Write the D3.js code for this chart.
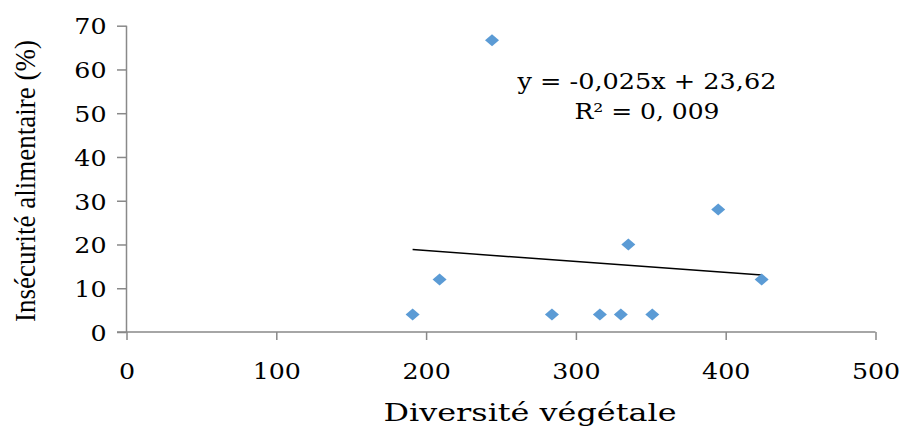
<!DOCTYPE html>
<html>
<head>
<meta charset="utf-8">
<script src="https://cdnjs.cloudflare.com/ajax/libs/d3/7.8.5/d3.min.js"></script>
<style>
  body { margin: 0; background: #fff; }
  #canvas { width: 904px; height: 429px; }
</style>
</head>
<body>
<div id="canvas" class="canvas"></div>
<script>
// data
var diversite = [191, 209, 244, 284, 316, 330, 335, 351, 395, 424];
var insecurite = [4, 12, 66.7, 4, 4, 4, 20, 4, 28, 12];
var xTicks = [0, 100, 200, 300, 400, 500];
var yTicks = [0, 10, 20, 30, 40, 50, 60, 70];
var trendSlope = -0.025, trendIntercept = 23.62;
var trendLabel = ['y = -0,025x + 23,62', 'R\u00b2 = 0, 009'];

var W = 904, H = 429;
var m = {t:25.7, r:28.5, b:97, l:126.5};

var svg = d3.select('.canvas')
    .append('svg')
    .attr('width', W)
    .attr('height', H);

var x = d3.scaleLinear().domain([0, 500]).range([m.l, W - m.r]);
var y = d3.scaleLinear().domain([0, 70]).range([H - m.b, m.t]);

var axisColor = '#898989';
var stretch = 1.1; // text in the picture is a bit wide

// y axis
var gy = svg.append('g')
    .attr('transform', 'translate(' + x(0) + ',0)')
    .call(d3.axisLeft(y).tickValues(yTicks).tickSize(9.5).tickPadding(11).tickFormat(d3.format('d')));
// x axis
var gx = svg.append('g')
    .attr('transform', 'translate(0,' + y(0) + ')')
    .call(d3.axisBottom(x).tickValues(xTicks).tickSize(8).tickPadding(31).tickFormat(d3.format('d')));

[gx, gy].forEach(function(g){
    g.select('.domain').remove();
    g.selectAll('line').attr('stroke', axisColor).attr('stroke-width', 1.5);
    g.selectAll('text')
        .attr('fill', '#000')
        .style('font-family', '"DejaVu Serif", serif')
        .style('font-size', '23px');
});
gy.selectAll('text').attr('transform', 'scale(' + stretch + ',1)').attr('x', -20 / stretch).attr('dy', '0.36em');
gx.selectAll('text').attr('transform', 'scale(' + stretch + ',1)').attr('dy', '0.36em');

// axis lines
svg.append('line')
    .attr('x1', x(0)).attr('x2', x(0))
    .attr('y1', y(70)).attr('y2', y(0))
    .attr('stroke', axisColor).attr('stroke-width', 1.5);
svg.append('line')
    .attr('x1', x(0) - 9.5).attr('x2', x(500))
    .attr('y1', y(0)).attr('y2', y(0))
    .attr('stroke', axisColor).attr('stroke-width', 1.5);

// trend line
var x0 = d3.min(diversite), x1 = d3.max(diversite);
svg.append('line')
    .attr('x1', x(x0)).attr('y1', y(trendSlope * x0 + trendIntercept))
    .attr('x2', x(x1)).attr('y2', y(trendSlope * x1 + trendIntercept))
    .attr('stroke', '#000').attr('stroke-width', 1.5);

// diamonds
var pts = diversite.map(function(d, i){ return {x: d, y: insecurite[i]}; });
svg.selectAll('path.pt')
    .data(pts)
    .enter()
    .append('path')
    .attr('class', 'pt')
    .attr('d', 'M0,-6L7,0L0,6L-7,0Z')
    .attr('transform', function(d){ return 'translate(' + x(d.x) + ',' + y(d.y) + ')'; })
    .attr('fill', '#5b9bd5');

// equation
svg.selectAll('text.eq')
    .data(trendLabel)
    .enter()
    .append('text')
    .attr('class', 'eq')
    .attr('x', 647)
    .attr('y', function(d, i){ return 89 + i * 30; })
    .attr('text-anchor', 'middle')
    .attr('textLength', function(d, i){ return i === 0 ? 259 : 145; })
    .attr('lengthAdjust', 'spacingAndGlyphs')
    .style('font-family', '"DejaVu Serif", serif')
    .style('font-size', '22px')
    .text(function(d){ return d; });

// axis titles
svg.append('text')
    .attr('x', 530)
    .attr('y', 421)
    .attr('text-anchor', 'middle')
    .attr('textLength', 293)
    .attr('lengthAdjust', 'spacingAndGlyphs')
    .style('font-family', '"DejaVu Serif", serif')
    .style('font-size', '24px')
    .text('Diversité végétale');

svg.append('text')
    .attr('transform', 'translate(35,181) rotate(-90)')
    .attr('text-anchor', 'middle')
    .attr('textLength', 282)
    .attr('lengthAdjust', 'spacingAndGlyphs')
    .style('font-family', '"Liberation Serif", serif')
    .style('font-size', '30px')
    .text('Insécurité alimentaire (%)');
</script>
</body>
</html>
